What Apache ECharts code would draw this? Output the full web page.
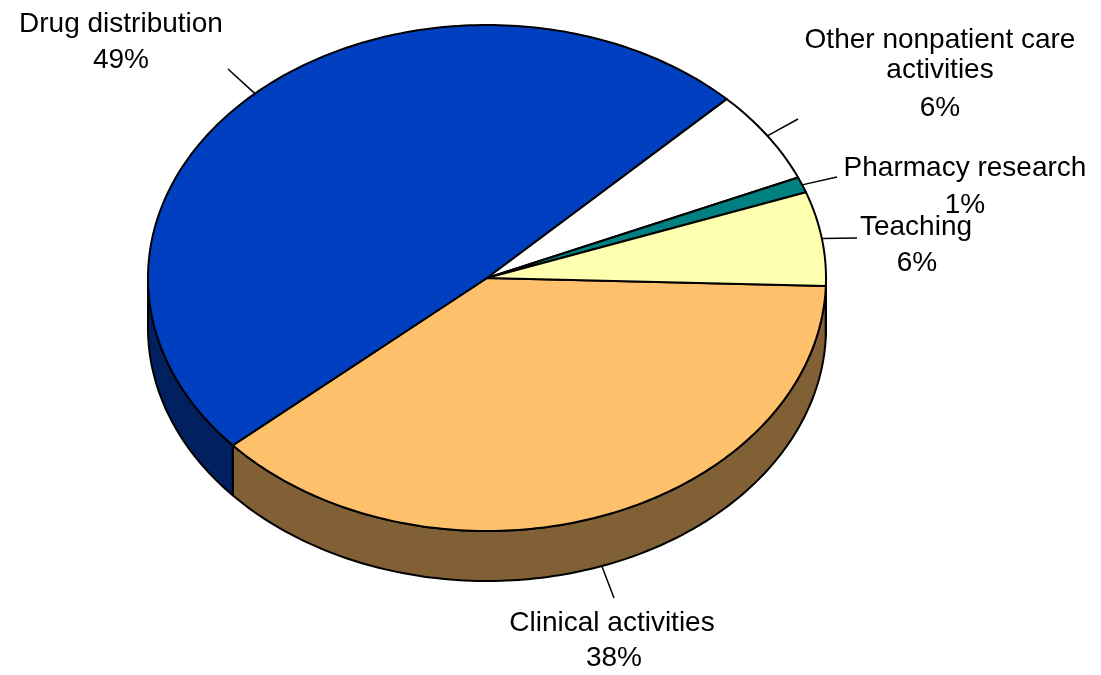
<!DOCTYPE html>
<html>
<head>
<meta charset="utf-8">
<script src="https://cdn.jsdelivr.net/npm/echarts@6/dist/echarts.min.js"></script>
<style>
  html, body { margin: 0; padding: 0; background: #fff; }
  #main { width: 1101px; height: 675px; }
</style>
</head>
<body>
<div id="main"></div>
<script>
// slices, clockwise from the right edge of the pie
var categories = ['Clinical activities', 'Drug distribution', 'Other nonpatient care activities', 'Pharmacy research', 'Teaching'];
var shares = [38, 49, 6, 1, 6];

// how each label is broken into lines
var labelLines = [['Clinical activities'], ['Drug distribution'], ['Other nonpatient care', 'activities'], ['Pharmacy research'], ['Teaching']];

// colours
var topColors = ['#FFC06C', '#0040C0', '#FFFFFF', '#008080', '#FFFFB0'];
var sideColors = ['#806034', '#002060', '#808080', '#004040', '#808058'];

// label placement (centre of every text line) and where the leader line stops
var labelSpots = [
	[[612, 623], [614, 658]],
	[[121, 24], [121, 60]],
	[[940, 40], [940, 70], [940, 108]],
	[[965, 168], [965, 205]],
	[[916, 227], [917, 263]]
];
var leaderEnds = [[614, 598], [228, 69], [798, 119], [837, 177], [857, 238]];

// pie geometry
var pie = { cx: 487, cy: 278, rx: 339, ry: 253, depth: 50, start: 1.8 };

var total = shares.reduce(function(a, b) { return a + b; }, 0);
var ranges = [];
var acc = pie.start;
shares.forEach(function(v) {
	var span = v / total * 360;
	ranges.push([acc, acc + span]);
	acc += span;
});

function pt(deg, dy) {
	var r = deg * Math.PI / 180;
	return [pie.cx + pie.rx * Math.cos(r), pie.cy + pie.ry * Math.sin(r) + (dy || 0)];
}

function arcPoints(a, b, dy) {
	var pts = [];
	var n = Math.max(2, Math.ceil(Math.abs(b - a)));
	for (var i = 0; i <= n; i++) {
		pts.push(pt(a + (b - a) * i / n, dy));
	}
	return pts;
}

// front wall pieces: parts of the slice that fall in the near half (0..180 deg)
function frontParts(a, b) {
	var parts = [];
	[0, 360].forEach(function(off) {
		var s = Math.max(a, off), e = Math.min(b, off + 180);
		if (e > s) parts.push([s, e]);
	});
	return parts;
}

function renderSide(params, api) {
	var i = params.dataIndex;
	var rg = ranges[i];
	var children = frontParts(rg[0], rg[1]).map(function(p) {
		var top = arcPoints(p[0], p[1], 0);
		var bottom = arcPoints(p[1], p[0], pie.depth);
		return {
			type: 'polygon',
			shape: { points: top.concat(bottom) },
			style: { fill: sideColors[i], stroke: '#000', lineWidth: 2, lineJoin: 'round' }
		};
	});
	return { type: 'group', children: children };
}

function renderTop(params, api) {
	var i = params.dataIndex;
	var rg = ranges[i];
	var val = api.value(0);
	var pts = [[pie.cx, pie.cy]].concat(arcPoints(rg[0], rg[1], 0));
	var mid = (rg[0] + rg[1]) / 2;
	var midN = ((mid % 360) + 360) % 360;
	var from = pt(mid, (midN > 0 && midN < 180) ? pie.depth : 0);
	var children = [{
		type: 'polygon',
		shape: { points: pts },
		style: { fill: topColors[i], stroke: '#000', lineWidth: 2, lineJoin: 'round' }
	}, {
		type: 'line',
		shape: { x1: from[0], y1: from[1], x2: leaderEnds[i][0], y2: leaderEnds[i][1] },
		style: { stroke: '#000', lineWidth: 1.5 }
	}];
	var lines = labelLines[i].concat([Math.round(val / total * 100) + '%']);
	lines.forEach(function(t, k) {
		children.push({
			type: 'text',
			style: {
				text: t,
				x: labelSpots[i][k][0],
				y: labelSpots[i][k][1],
				fill: '#000',
				fontSize: 28,
				fontFamily: 'Liberation Sans, Arial, sans-serif',
				align: 'center',
				verticalAlign: 'middle'
			}
		});
	});
	return { type: 'group', children: children };
}

var chart = echarts.init(document.getElementById('main'));
var seriesData = shares.map(function(v, i) { return { name: categories[i], value: [v] }; });

chart.setOption({
	backgroundColor: '#ffffff',
	animation: false,
	series: [{
		type: 'custom',
		name: 'side',
		coordinateSystem: 'none',
		renderItem: renderSide,
		data: seriesData,
		z: 1
	}, {
		type: 'custom',
		name: 'top',
		coordinateSystem: 'none',
		renderItem: renderTop,
		data: seriesData,
		z: 2
	}]
});
</script>
</body>
</html>
